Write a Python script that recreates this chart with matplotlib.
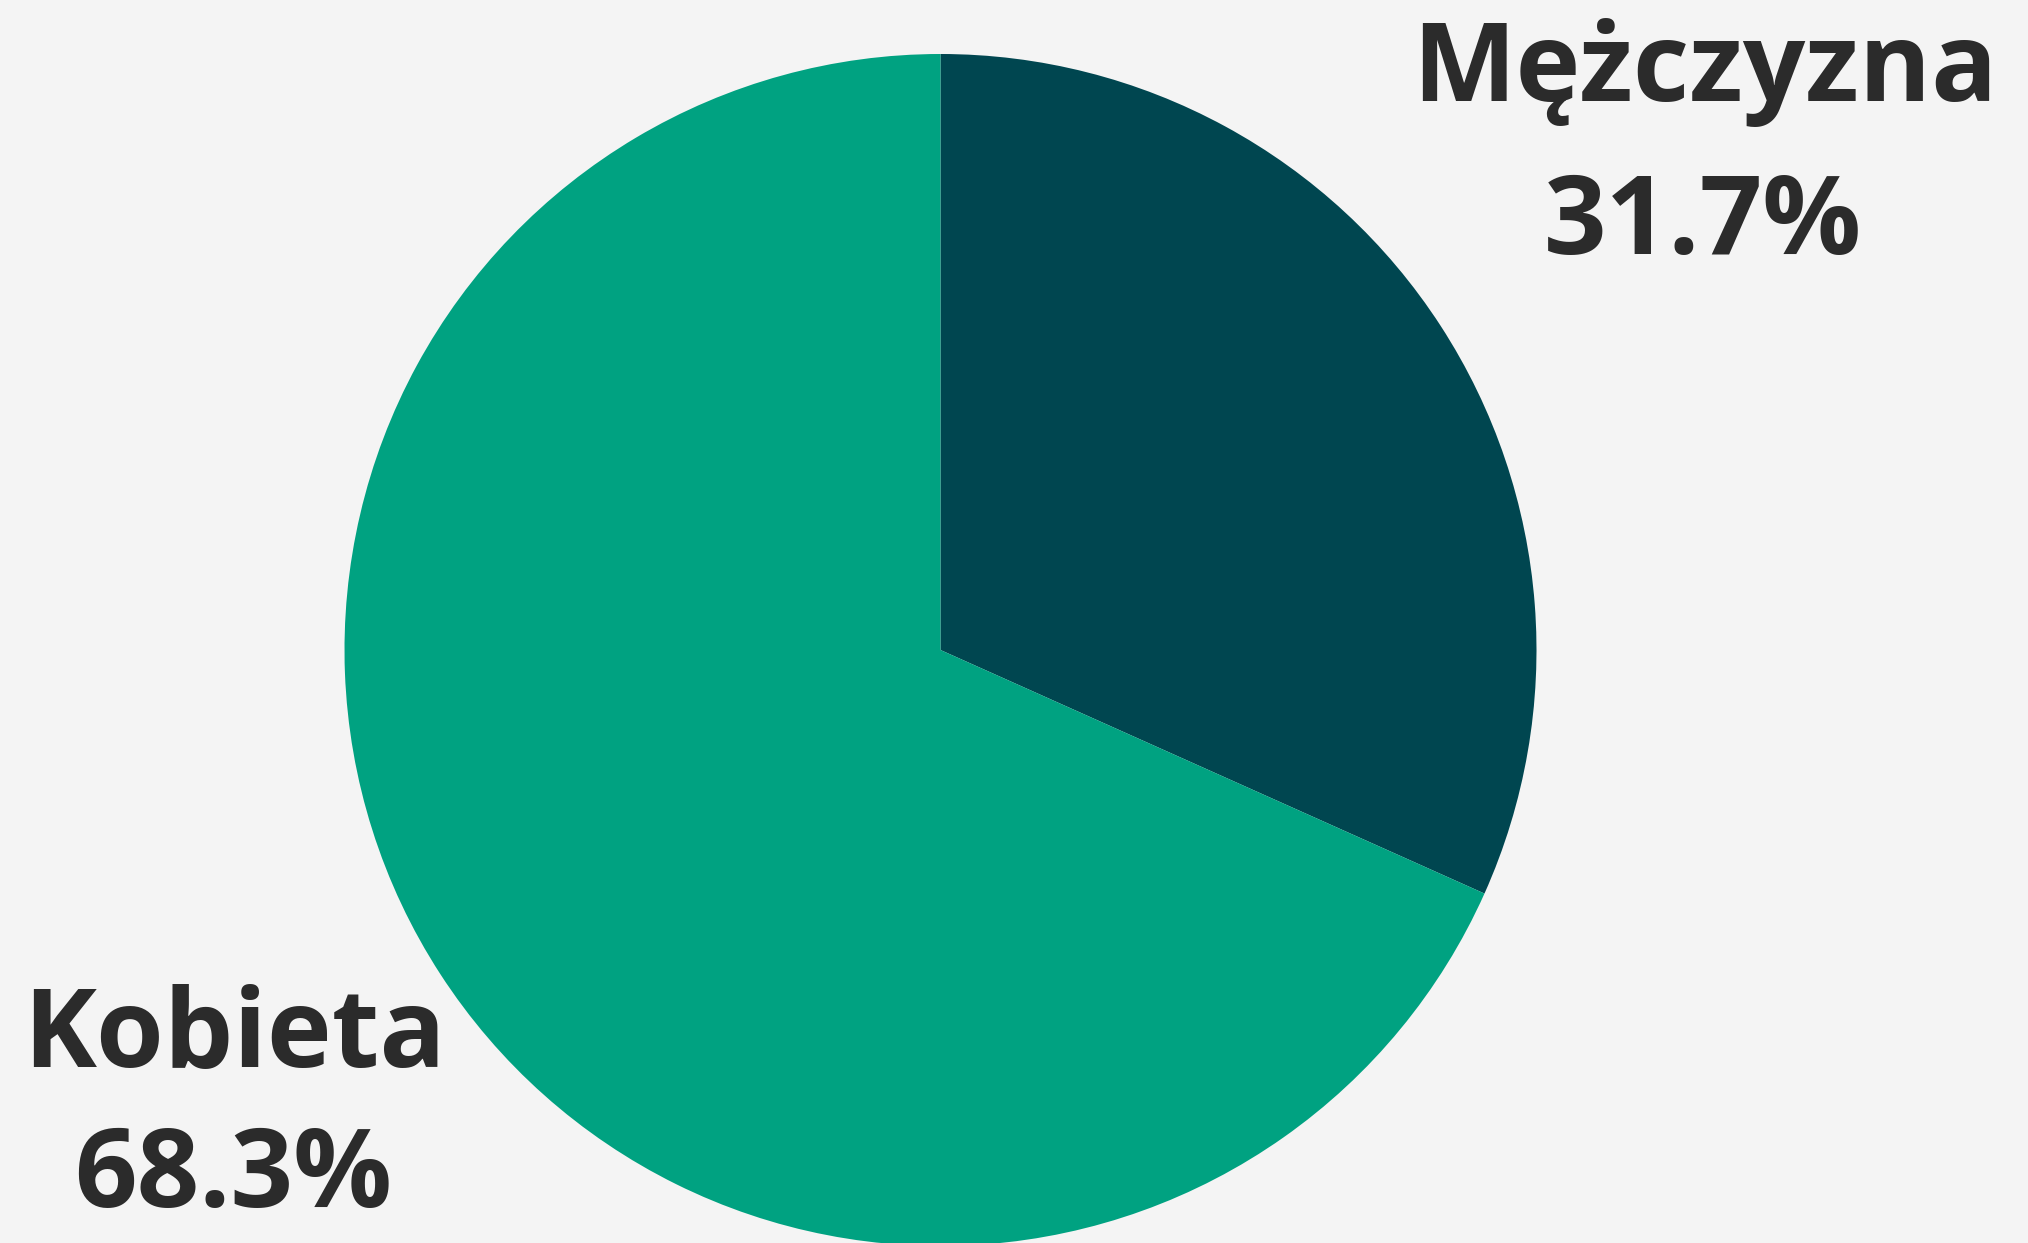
import matplotlib
matplotlib.use("Agg")
import matplotlib.pyplot as plt

labels = ["Mężczyzna", "Kobieta"]
shares = [31.7, 68.3]
colors = ["#004650", "#00a281"]

# label anchor points in pixel coords (x centre, baseline from top)
label_pos = [(1705, 101), (234, 1067)]
pct_pos = [(1703, 254), (233, 1207)]

W, H = 2028, 1243
fig = plt.figure(figsize=(W / 100, H / 100), dpi=100, facecolor="#f4f4f4")
ax = fig.add_axes([0, 0, 1, 1])
ax.set_facecolor("#f4f4f4")

ax.pie(shares, colors=colors, startangle=90, counterclock=False,
       center=(940.5, H - 650), radius=596, frame=True,
       wedgeprops={"linewidth": 0})
ax.set_xlim(0, W)
ax.set_ylim(0, H)
ax.set_aspect("equal")
ax.axis("off")

font = dict(family="Open Sans", weight="bold", color="#2b2b2b",
            fontsize=79, ha="center", va="baseline")
for lab, val, (lx, ly), (px, py) in zip(labels, shares, label_pos, pct_pos):
    ax.text(lx, H - ly, lab, **font)
    ax.text(px, H - py, f"{val:.1f}%", **font)

fig.savefig("out.png", dpi=100, facecolor=fig.get_facecolor())
